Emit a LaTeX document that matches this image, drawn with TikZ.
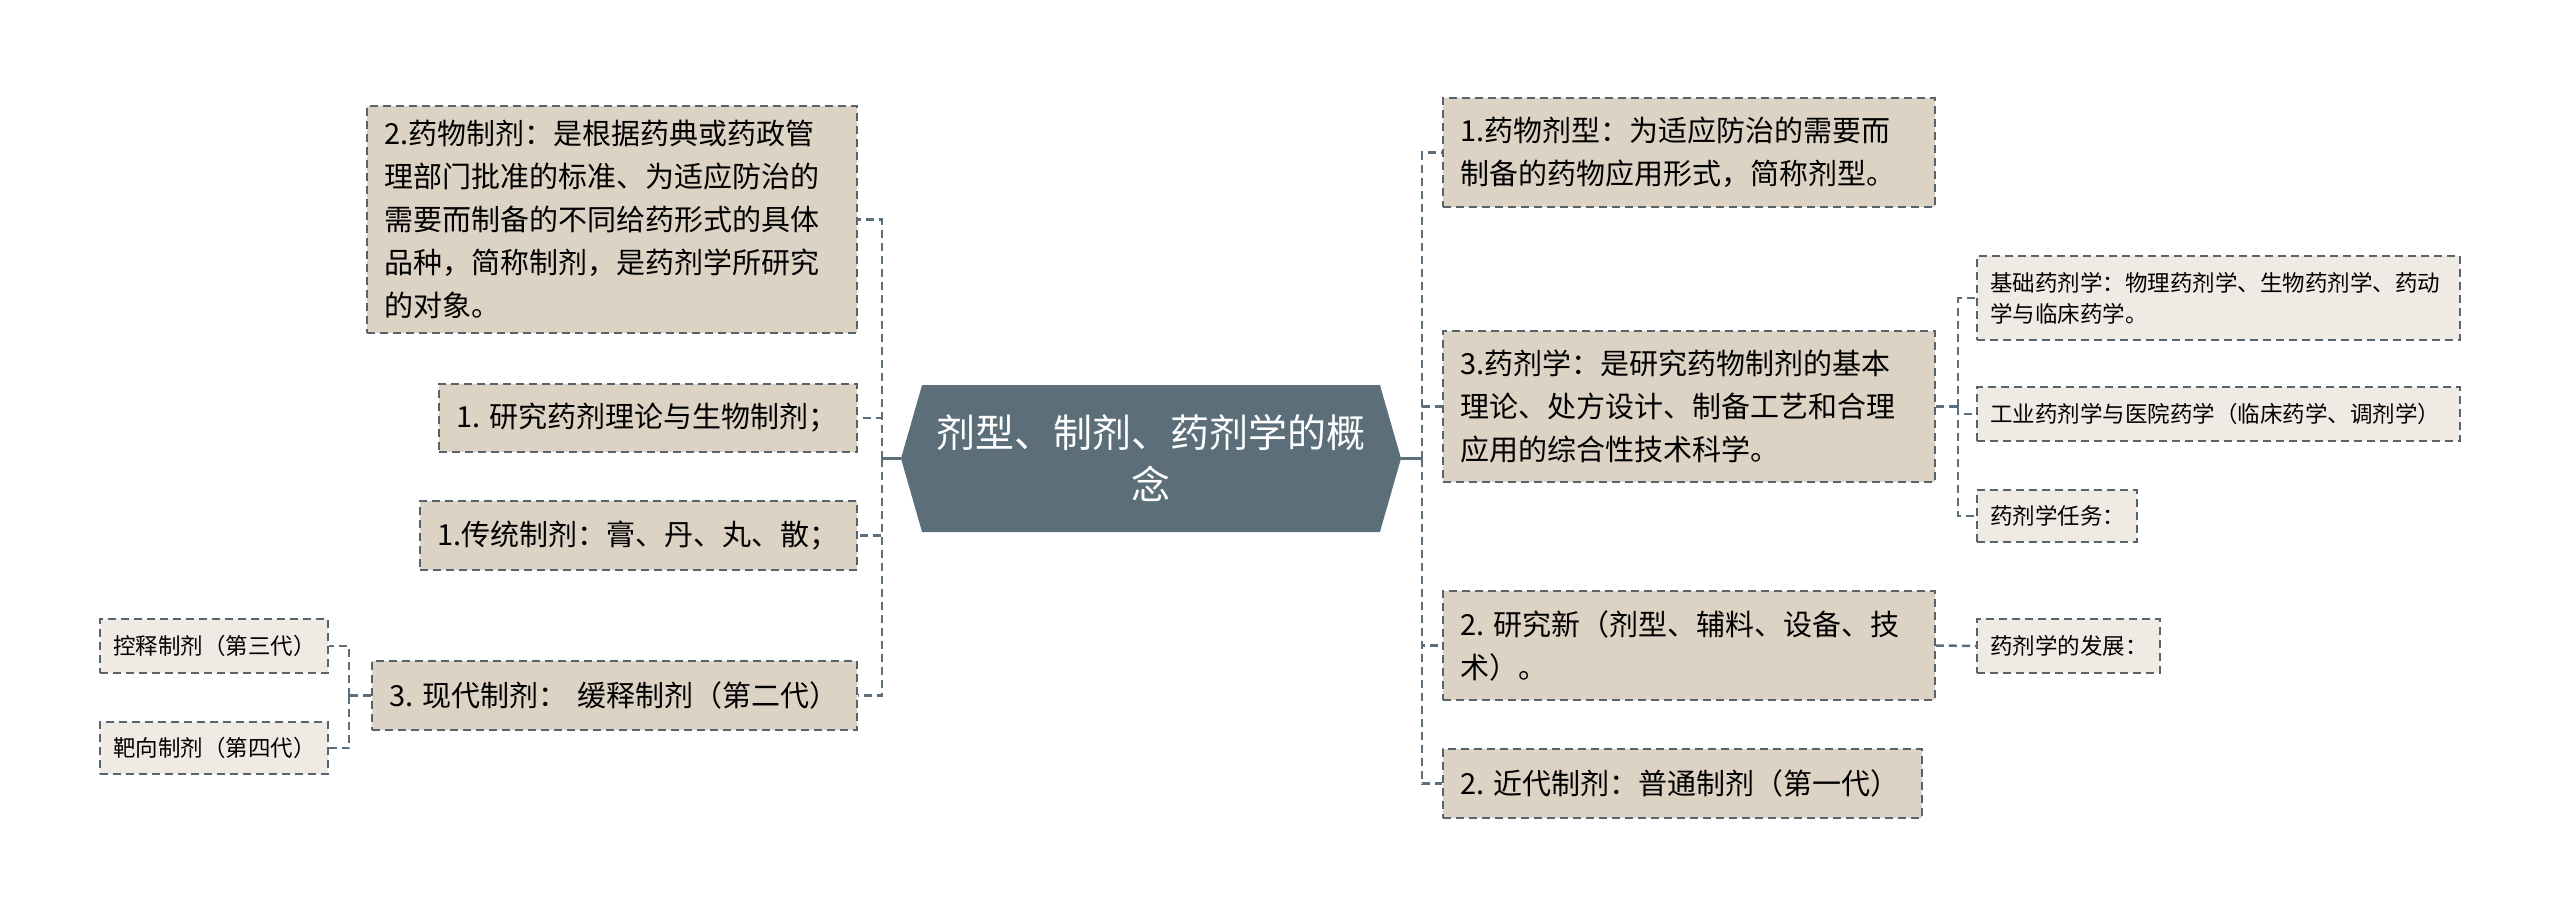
\documentclass[tikz,border=0pt]{standalone}
\usepackage{fontspec}
\setmainfont{Noto Sans CJK SC}
\usepackage{tikz}
\usepackage{xcolor}
\usetikzlibrary{positioning, shapes.symbols}

\definecolor{topicc}{HTML}{5B6E79}
\definecolor{mainc}{HTML}{DDD3C4}
\definecolor{subc}{HTML}{EFEBE4}
\definecolor{edgec}{HTML}{59636B}

\tikzset{
  topic/.style={signal, signal to=east and west, signal pointer angle=148,
    fill=topicc, text=white, align=center, inner sep=0pt,
    minimum width=500pt, minimum height=147pt,
    font=\fontsize{39}{52}\selectfont},
  mainbox/.style={draw=edgec, line width=1.8pt, dash pattern=on 8pt off 5pt,
    fill=mainc, align=left, inner xsep=17pt, inner ysep=4pt,
    font=\fontsize{29}{43}\selectfont},
  subbox/.style={draw=edgec, line width=1.8pt, dash pattern=on 8pt off 5pt,
    fill=subc, align=left, inner xsep=13pt, inner ysep=4pt,
    font=\fontsize{22.5}{31}\selectfont},
  link/.style={draw=topicc, line width=2.5pt, dash pattern=on 8pt off 5pt},
  stem/.style={draw=topicc, line width=3pt}
}

\begin{document}
\begin{tikzpicture}[x=1pt, y=-1pt]
  \fill[white] (0,0) rectangle (2560,918);

  \node [topic] (root) at (1151,458.5) {剂型、制剂、药剂学的概\\念};

  % left side
  \node [mainbox, text width=456pt, minimum height=227pt] (l1) at (612,219.5)
    {2.药物制剂：是根据药典或药政管\\理部门批准的标准、为适应防治的\\需要而制备的不同给药形式的具体\\品种，简称制剂，是药剂学所研究\\的对象。};
  \node [mainbox, text width=384pt, minimum height=68pt] (l2) at (648,418) {1.~研究药剂理论与生物制剂；};
  \node [mainbox, text width=403pt, minimum height=69pt] (l3) at (638.5,535.5) {1.传统制剂：膏、丹、丸、散；};
  \node [mainbox, text width=451pt, minimum height=69pt] (l4) at (614.5,695.5) {3.~现代制剂：~缓释制剂（第二代）};
  \node [subbox, text width=202pt, minimum height=54pt] (l4a) at (214,646) {控释制剂（第三代）};
  \node [subbox, text width=202pt, minimum height=52pt] (l4b) at (214,748) {靶向制剂（第四代）};

  % right side
  \node [mainbox, text width=458pt, minimum height=109pt] (r1) at (1689,152.5)
    {1.药物剂型：为适应防治的需要而\\制备的药物应用形式，简称剂型。};
  \node [mainbox, text width=458pt, minimum height=151pt] (r2) at (1689,406.5)
    {3.药剂学：是研究药物制剂的基本\\理论、处方设计、制备工艺和合理\\应用的综合性技术科学。};
  \node [mainbox, text width=458pt, minimum height=109pt] (r3) at (1689,645.5)
    {2.~研究新（剂型、辅料、设备、技\\术）。};
  \node [mainbox, text width=445pt, minimum height=69pt] (r4) at (1682.5,783.5) {2.~近代制剂：普通制剂（第一代）};
  \node [subbox, text width=457pt, minimum height=84pt] (r2a) at (2218.5,298)
    {基础药剂学：物理药剂学、生物药剂学、药动\\学与临床药学。};
  \node [subbox, text width=457pt, minimum height=54pt] (r2b) at (2218.5,414) {工业药剂学与医院药学（临床药学、调剂学）};
  \node [subbox, text width=134pt, minimum height=52pt] (r2c) at (2057,516) {药剂学任务：};
  \node [subbox, text width=157pt, minimum height=54pt] (r3a) at (2068.5,646) {药剂学的发展：};

  \coordinate (lj) at (882,458.5);
  \coordinate (rj) at (1422,458.5);
  \coordinate (l4j) at (349,695.5);
  \coordinate (r2j) at (1958,406.5);

  \draw[stem] (root.west) -- (lj);
  \draw[stem] (root.east) -- (rj);
  \foreach \n in {l1, l2, l3, l4}
    \draw[link] (lj) |- (\n.east);
  \foreach \n in {r1, r2, r3, r4}
    \draw[link] (rj) |- (\n.west);
  \draw[link] (l4.west) -- (l4j);
  \draw[link] (l4j) |- (l4a.east);
  \draw[link] (l4j) |- (l4b.east);
  \draw[link] (r2.east) -- (r2j);
  \foreach \n in {r2a, r2b, r2c}
    \draw[link] (r2j) |- (\n.west);
  \draw[link] (r3.east) -- (r3a.west);
\end{tikzpicture}
\end{document}
